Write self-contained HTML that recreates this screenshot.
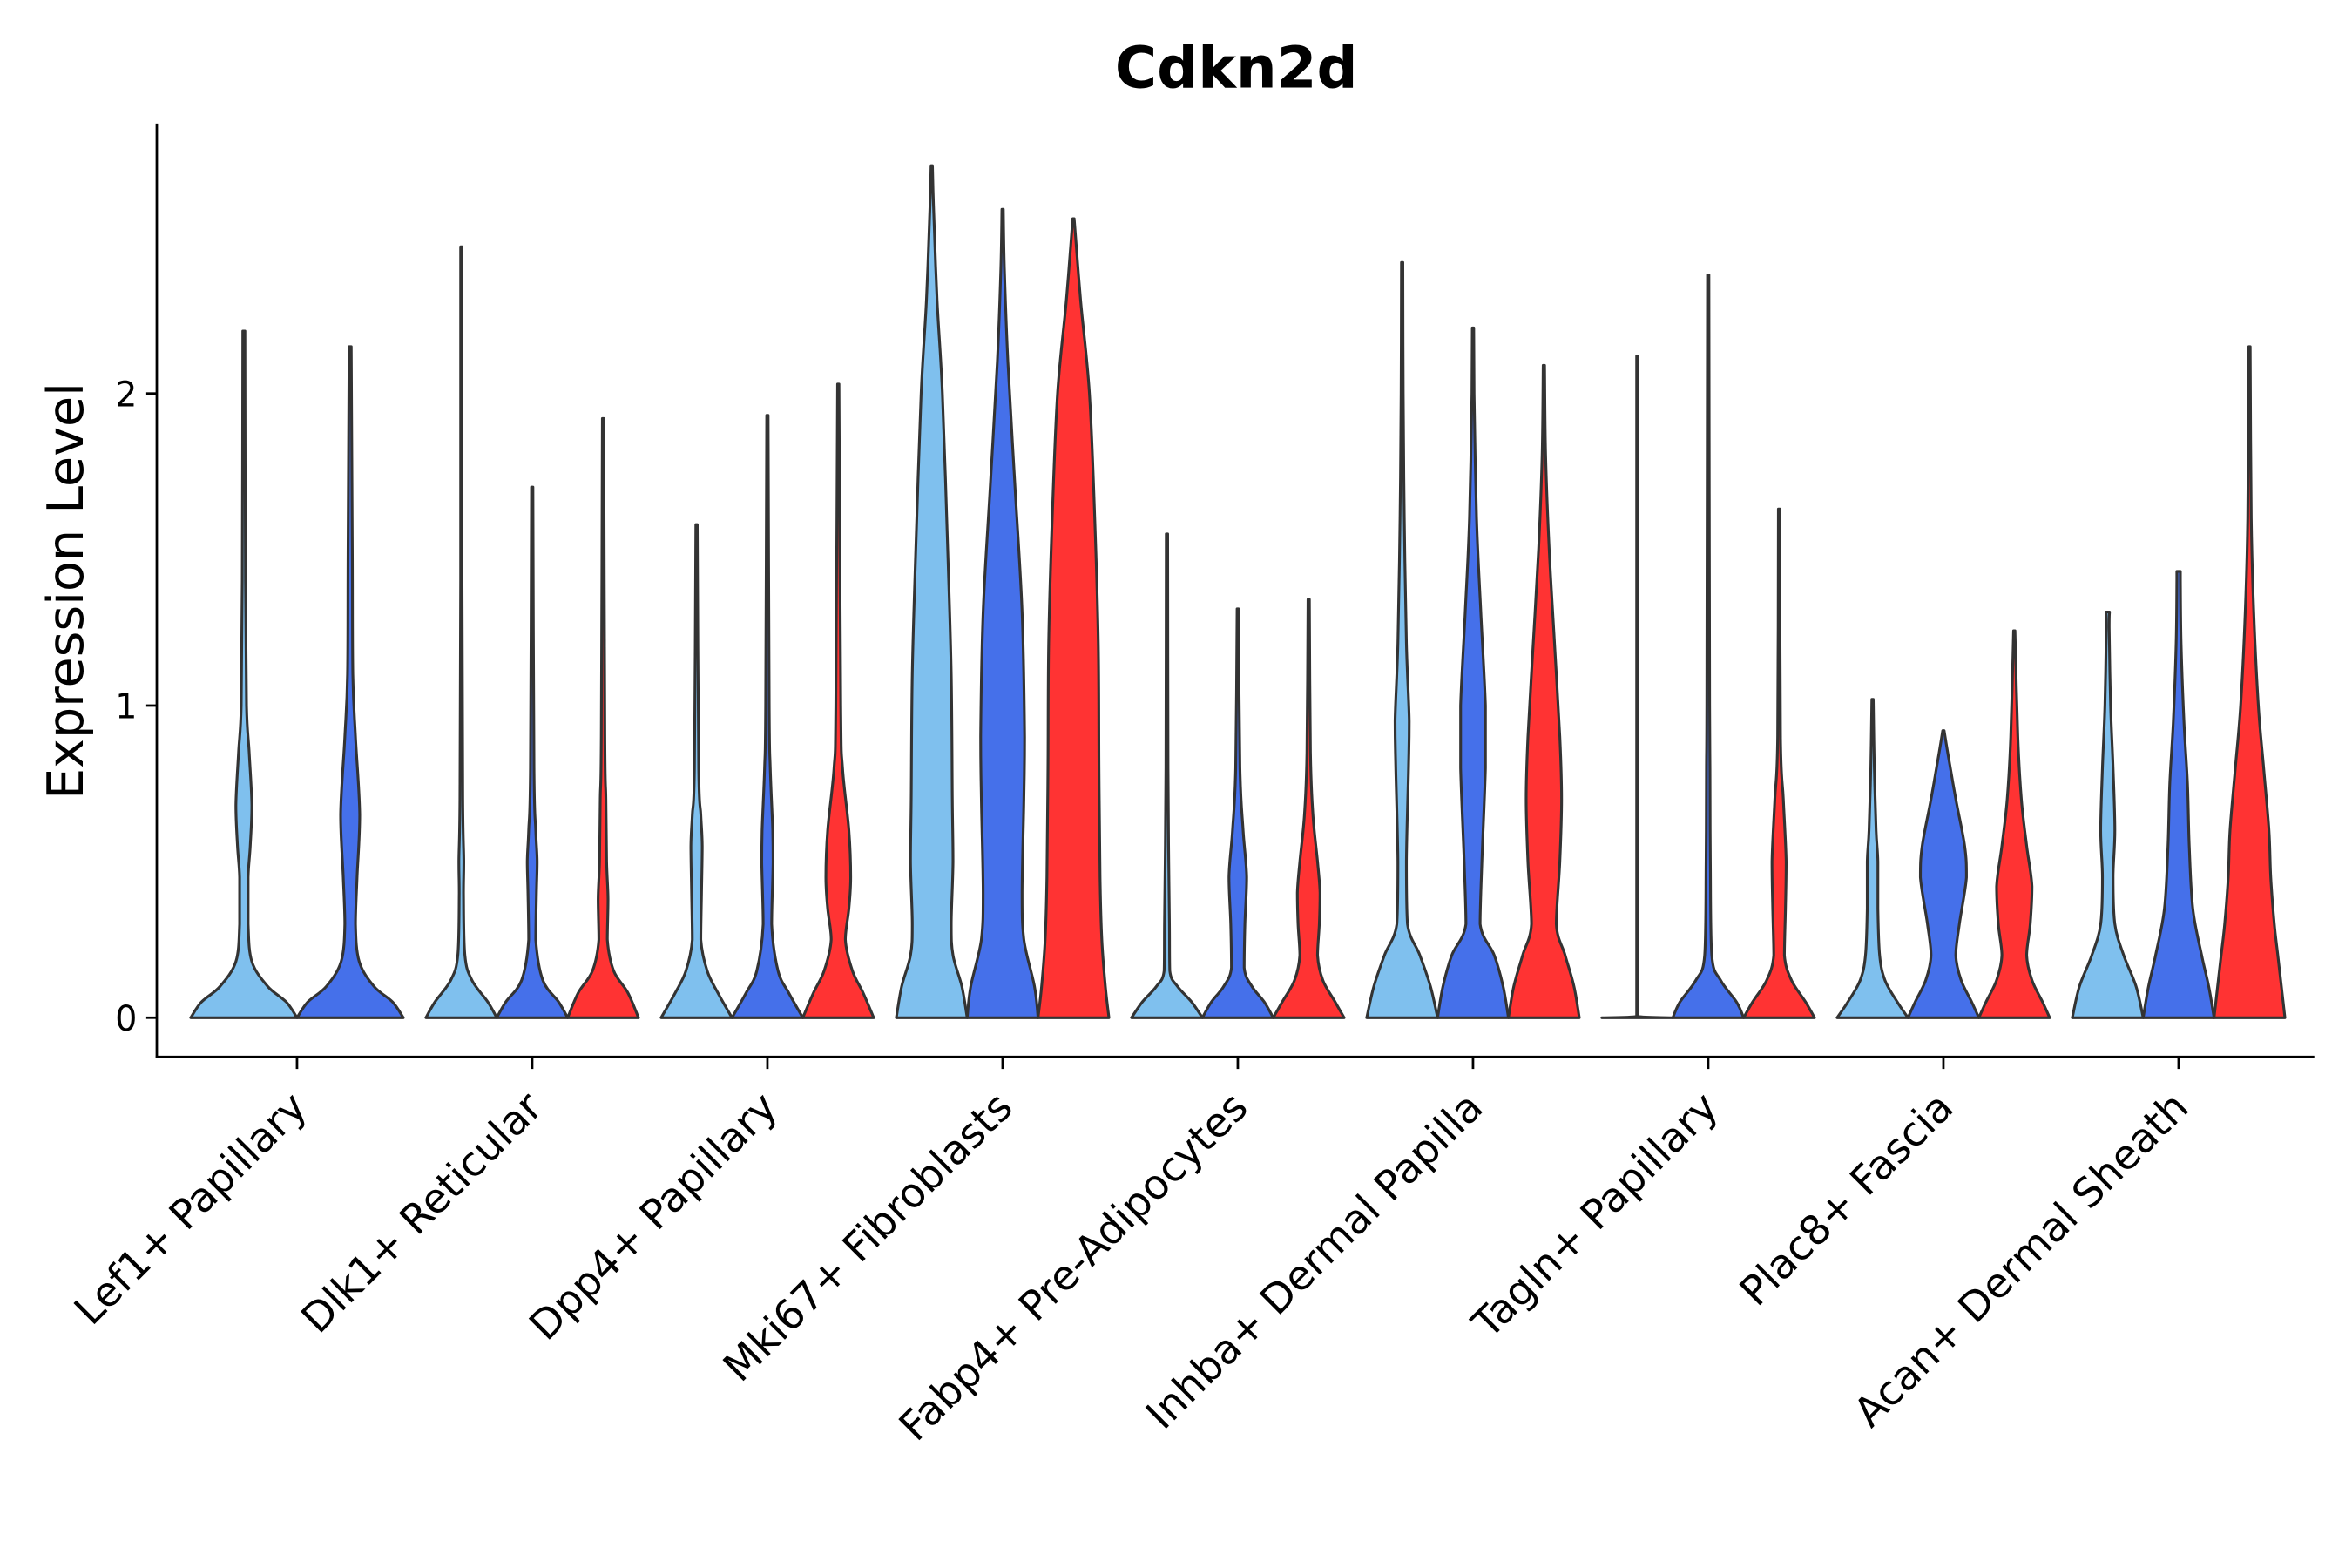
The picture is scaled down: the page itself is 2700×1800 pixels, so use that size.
<!DOCTYPE html>
<html><head><meta charset="utf-8">
<style>
html,body{margin:0;padding:0;background:#fff;}
svg{display:block;}
text{font-family:"DejaVu Sans","Liberation Sans",sans-serif;fill:#000;}
</style></head>
<body>
<svg id="chart" width="2700" height="1800" viewBox="0 0 1560 1040" xmlns="http://www.w3.org/2000/svg">
<rect x="0" y="0" width="1560" height="1040" fill="#fff"/>
<text x="820" y="58" text-anchor="middle" font-size="38" font-weight="bold">Cdkn2d</text>
<text transform="translate(55,392) rotate(-90)" text-anchor="middle" font-size="33">Expression Level</text>
<g id="marks"></g>
<g id="axes"></g>
</svg>
<script>
const categories = ["Lef1+ Papillary","Dlk1+ Reticular","Dpp4+ Papillary","Mki67+ Fibroblasts","Fabp4+ Pre-Adipocytes","Inhba+ Dermal Papilla","Tagln+ Papillary","Plac8+ Fascia","Acan+ Dermal Sheath"];
const seriesNames = ["condition-a","condition-b","condition-c"];
const seriesColors = ["#7fc0ee","#4570ea","#ff3333"];
const yTicks = [0,1,2];
const yTickLabels = ["0","1","2"];
// density profiles: [expression value, relative width]; null = series absent
const lef1Profiles = [
 [[0,1],[0.05,0.8],[0.1,0.45],[0.18,0.15],[0.3,0.08],[0.45,0.08],[0.55,0.12],[0.68,0.15],[0.85,0.1],[1,0.05],[1.4,0.03],[2.2,0.02]],
 [[0,1],[0.05,0.8],[0.1,0.45],[0.18,0.17],[0.3,0.1],[0.45,0.13],[0.65,0.18],[0.9,0.1],[1.1,0.05],[1.5,0.04],[2.15,0.02]],
 null];
const dlk1Profiles = [
 [[0,1],[0.05,0.75],[0.12,0.3],[0.2,0.1],[0.4,0.06],[0.5,0.07],[0.7,0.04],[1.4,0.02],[2.47,0.02]],
 [[0,1],[0.05,0.75],[0.12,0.3],[0.25,0.1],[0.4,0.12],[0.5,0.14],[0.6,0.1],[0.8,0.05],[1.7,0.02]],
 [[0,1],[0.08,0.7],[0.15,0.3],[0.25,0.12],[0.38,0.14],[0.5,0.1],[0.7,0.08],[0.9,0.05],[1.92,0.02]]];
const dpp4Profiles = [
 [[0,1],[0.08,0.6],[0.15,0.3],[0.25,0.12],[0.4,0.14],[0.55,0.16],[0.65,0.12],[0.8,0.06],[1.58,0.02]],
 [[0,1],[0.08,0.6],[0.15,0.3],[0.3,0.12],[0.5,0.16],[0.6,0.15],[0.8,0.08],[1.0,0.05],[1.93,0.02]],
 [[0,1],[0.08,0.7],[0.15,0.4],[0.25,0.2],[0.35,0.3],[0.45,0.35],[0.6,0.3],[0.8,0.12],[1.0,0.07],[2.03,0.02]]];
const mki67Profiles = [
 [[0,1],[0.1,0.85],[0.2,0.6],[0.3,0.55],[0.5,0.6],[0.7,0.58],[1.1,0.55],[1.5,0.45],[2,0.3],[2.3,0.15],[2.6,0.05],[2.73,0.02]],
 [[0,1],[0.1,0.9],[0.25,0.6],[0.4,0.55],[0.7,0.6],[0.9,0.62],[1.3,0.55],[1.7,0.35],[2.1,0.15],[2.4,0.05],[2.59,0.02]],
 [[0,1],[0.1,0.9],[0.25,0.8],[0.45,0.75],[0.8,0.72],[1.2,0.7],[1.6,0.6],[2.0,0.45],[2.3,0.2],[2.56,0.02]]];
const fabp4Profiles = [
 [[0,1],[0.05,0.7],[0.1,0.3],[0.15,0.08],[0.3,0.07],[0.5,0.05],[0.8,0.03],[1.55,0.02]],
 [[0,1],[0.05,0.75],[0.1,0.4],[0.16,0.18],[0.3,0.2],[0.45,0.25],[0.6,0.15],[0.8,0.06],[1.31,0.02]],
 [[0,1],[0.05,0.75],[0.12,0.4],[0.2,0.25],[0.3,0.3],[0.4,0.32],[0.5,0.25],[0.65,0.12],[0.85,0.05],[1.34,0.02]]];
const inhbaProfiles = [
 [[0,1],[0.1,0.8],[0.2,0.5],[0.3,0.15],[0.5,0.12],[0.8,0.18],[0.95,0.2],[1.2,0.12],[1.6,0.06],[2.0,0.03],[2.42,0.02]],
 [[0,1],[0.1,0.85],[0.2,0.6],[0.3,0.2],[0.5,0.25],[0.8,0.35],[1.0,0.35],[1.3,0.22],[1.6,0.1],[2.0,0.03],[2.21,0.02]],
 [[0,1],[0.1,0.85],[0.2,0.6],[0.3,0.35],[0.5,0.45],[0.7,0.5],[0.9,0.45],[1.2,0.3],[1.5,0.15],[1.8,0.05],[2.09,0.02]]];
const taglnProfiles = [
 [[0,1],[0.004,0.02],[2.12,0.02]],
 [[0,1],[0.05,0.8],[0.12,0.35],[0.2,0.1],[0.5,0.06],[0.8,0.05],[1.0,0.04],[2.38,0.02]],
 [[0,1],[0.05,0.75],[0.12,0.35],[0.2,0.15],[0.35,0.18],[0.5,0.2],[0.7,0.12],[0.9,0.04],[1.63,0.02]]];
const plac8Profiles = [
 [[0,1],[0.05,0.7],[0.12,0.35],[0.2,0.2],[0.35,0.15],[0.5,0.15],[0.6,0.1],[0.8,0.05],[1.02,0.02]],
 [[0,1],[0.05,0.8],[0.12,0.5],[0.2,0.35],[0.3,0.45],[0.45,0.65],[0.55,0.6],[0.7,0.35],[0.85,0.12],[0.92,0.02]],
 [[0,1],[0.05,0.8],[0.12,0.5],[0.2,0.35],[0.3,0.45],[0.42,0.5],[0.55,0.35],[0.7,0.2],[0.9,0.1],[1.24,0.02]]];
const acanProfiles = [
 [[0,1],[0.1,0.8],[0.2,0.45],[0.3,0.2],[0.45,0.15],[0.6,0.2],[0.8,0.15],[1.0,0.08],[1.25,0.04],[1.3,0.05]],
 [[0,1],[0.1,0.85],[0.2,0.65],[0.35,0.4],[0.55,0.3],[0.75,0.25],[0.95,0.15],[1.2,0.07],[1.4,0.05],[1.43,0.05]],
 [[0,1],[0.1,0.9],[0.2,0.8],[0.3,0.7],[0.45,0.6],[0.6,0.55],[0.8,0.4],[1.0,0.25],[1.3,0.12],[1.6,0.05],[2.15,0.02]]];
const groupProfiles = [lef1Profiles,dlk1Profiles,dpp4Profiles,mki67Profiles,fabp4Profiles,inhbaProfiles,taglnProfiles,plac8Profiles,acanProfiles];

const NS="http://www.w3.org/2000/svg";
const plot={left:104,right:1535,top:82,bottom:701};
function yScale(v){return 675 - v*207;}
function xScale(i){return 197 + i*156;}
const groupWidth=141;

function clamp(v,a,b){const lo=Math.min(a,b),hi=Math.max(a,b);return Math.max(lo,Math.min(hi,v));}
function smoothPath(pts){
  let d="M"+pts[0][0].toFixed(2)+","+pts[0][1].toFixed(2);
  for(let i=0;i<pts.length-1;i++){
    const p0=pts[Math.max(i-1,0)],p1=pts[i],p2=pts[i+1],p3=pts[Math.min(i+2,pts.length-1)];
    let c1=[p1[0]+(p2[0]-p0[0])/6,p1[1]+(p2[1]-p0[1])/6];
    let c2=[p2[0]-(p3[0]-p1[0])/6,p2[1]-(p3[1]-p1[1])/6];
    c1[1]=clamp(c1[1],p1[1],p2[1]);c2[1]=clamp(c2[1],p1[1],p2[1]);
    c1[0]=clamp(c1[0],p1[0],p2[0]);c2[0]=clamp(c2[0],p1[0],p2[0]);
    d+=" C"+c1[0].toFixed(2)+","+c1[1].toFixed(2)+" "+c2[0].toFixed(2)+","+c2[1].toFixed(2)+" "+p2[0].toFixed(2)+","+p2[1].toFixed(2);
  }
  return d;
}
const marks=document.getElementById('marks');
groupProfiles.forEach((profs,gi)=>{
  const present=[];profs.forEach((p,si)=>{if(p)present.push(si);});
  const n=present.length, w=groupWidth/n, hw=w/2;
  present.forEach((si,k)=>{
    const cx=xScale(gi)-groupWidth/2+w*(k+0.5);
    const prof=profs[si];
    const right=prof.map(p=>[cx+p[1]*hw,yScale(p[0])]);
    const left=prof.slice().reverse().map(p=>[cx-p[1]*hw,yScale(p[0])]);
    const top=prof[prof.length-1];
    let d=smoothPath(right);
    d+=" L"+(cx-top[1]*hw).toFixed(2)+","+yScale(top[0]).toFixed(2);
    d+=smoothPath(left).replace(/^M[^ ]+/,"");
    d+=" Z";
    const path=document.createElementNS(NS,'path');
    path.setAttribute('d',d);
    path.setAttribute('fill',seriesColors[si]);
    path.setAttribute('stroke','#333333');
    path.setAttribute('stroke-width','1.8');
    path.setAttribute('stroke-linejoin','round');
    
    
    marks.appendChild(path);
  });
});
const axes=document.getElementById('axes');
function add(tag,attrs,parent){const e=document.createElementNS(NS,tag);for(const k in attrs)e.setAttribute(k,attrs[k]);(parent||axes).appendChild(e);return e;}
const yl=add('line',{x1:plot.left,y1:plot.top,x2:plot.left,y2:plot.bottom+0.7,stroke:'#000','stroke-width':1.6});


const xl=add('line',{x1:plot.left-0.7,y1:plot.bottom,x2:plot.right,y2:plot.bottom,stroke:'#000','stroke-width':1.6});


yTicks.forEach((v,i)=>{
  const t=add('line',{x1:plot.left-7,y1:yScale(v),x2:plot.left,y2:yScale(v),stroke:'#000','stroke-width':1.6});
  
  
  const l=add('text',{x:plot.left-13,y:yScale(v)+8.5,'text-anchor':'end','font-size':23});
  l.textContent=yTickLabels[i];
  
  
});
categories.forEach((c,i)=>{
  const x=xScale(i);
  const t=add('line',{x1:x,y1:plot.bottom,x2:x,y2:plot.bottom+8,stroke:'#000','stroke-width':1.6});
  
  
  const l=add('text',{transform:'translate('+(x+8)+',736) rotate(-45)','text-anchor':'end','font-size':27});
  l.textContent=c;
  
  
});
</script>
</body></html>
